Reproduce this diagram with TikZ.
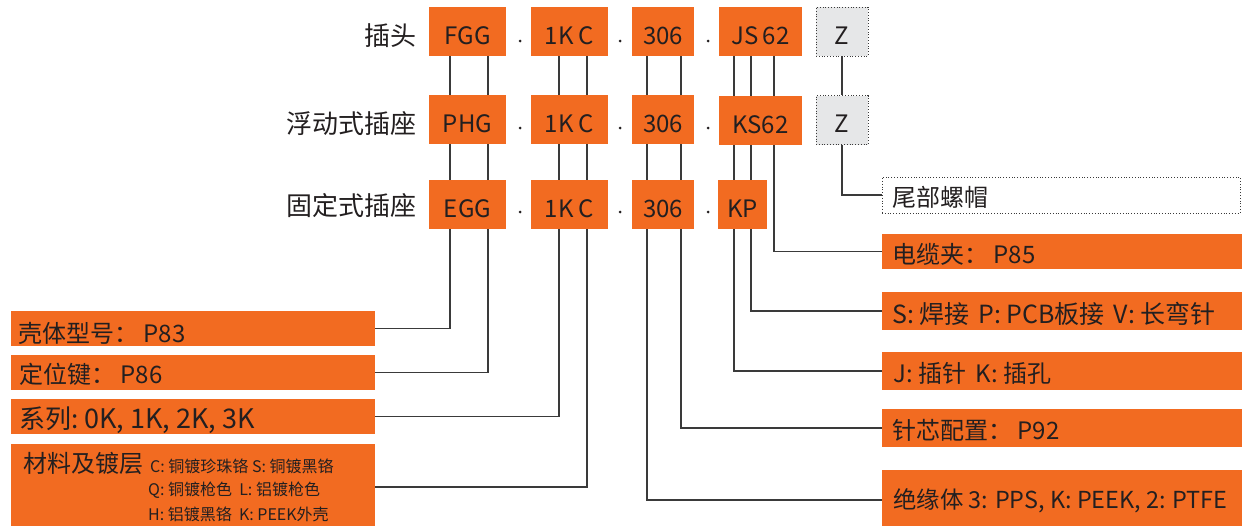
\documentclass[tikz,border=0pt]{standalone}
\usepackage{fontspec}
\setmainfont{Noto Sans CJK SC}
\usetikzlibrary{backgrounds}
\definecolor{org}{HTML}{F26B21}
\definecolor{ink}{HTML}{231F20}
\definecolor{zgray}{HTML}{E6E7E8}
\definecolor{wire}{HTML}{3A3A3A}
\begin{document}
\begin{tikzpicture}[x=1pt,y=-1pt,
 code/.style={fill=org,text=ink,inner sep=0,minimum height=49pt,text height=25pt,text depth=0pt,font=\fontsize{24}{24}\selectfont},
 zbox/.style={code,fill=zgray,draw=wire,dotted,line width=0.8pt,minimum width=52pt},
 dotmark/.style={circle,fill=ink,inner sep=0,minimum size=3pt},
 kind/.style={anchor=base east,text=ink,font=\fontsize{26}{26}\selectfont,inner sep=0},
 lbox/.style={fill=org,inner sep=0},
 ltext/.style={anchor=base west,text=ink,inner sep=0,font=\fontsize{24}{24}\selectfont},
 stext/.style={anchor=base west,text=ink,inner sep=0,font=\fontsize{16}{16}\selectfont},
 wireline/.style={draw=wire,line width=1.3pt}]
\useasboundingbox (0,0) rectangle (1242,525);

% row labels
\node[kind] (k1) at (417,45) {插头};
\node[kind] (k2) at (417,133) {浮动式插座};
\node[kind] (k3) at (417,215) {固定式插座};

% row 1
\node[code,minimum width=77pt] (FGG) at (467.5,31.5) {FGG};
\node[code,minimum width=77pt] (C1) at (569.5,31.5) {1K C};
\node[code,minimum width=62pt] (N1) at (663,31.5) {306};
\node[code,minimum width=83pt] (JS) at (760.5,31.5) {JS\hspace{4pt}62};
\node[zbox] (Z1) at (842,31.5) {Z};
% row 2
\node[code,minimum width=77pt] (PHG) at (467.5,119.5) {PHG};
\node[code,minimum width=77pt] (C2) at (569.5,119.5) {1K C};
\node[code,minimum width=62pt] (N2) at (663,119.5) {306};
\node[code,minimum width=83pt] (KS) at (760.5,120.5) {KS62};
\node[zbox] (Z2) at (842,120) {Z};
% row 3
\node[code,minimum width=77pt] (EGG) at (467.5,204.5) {EGG};
\node[code,minimum width=77pt] (C3) at (569.5,204.5) {1K C};
\node[code,minimum width=62pt] (N3) at (663,204.5) {306};
\node[code,minimum width=49pt] (KP) at (742.5,204.5) {KP};

% separators
\node[dotmark] (d11) at (520,41) {};
\node[dotmark] (d12) at (620,41) {};
\node[dotmark] (d13) at (708,41) {};
\node[dotmark] (d21) at (520,128) {};
\node[dotmark] (d22) at (620,128) {};
\node[dotmark] (d23) at (708,128) {};
\node[dotmark] (d31) at (520,212) {};
\node[dotmark] (d32) at (620,212) {};
\node[dotmark] (d33) at (708,212) {};

% left explanation boxes
\node[lbox,minimum width=364pt,minimum height=35pt] (shell) at (193,328.5) {};
\node[ltext] (shellT) at (18,342) {壳体型号： P83};
\node[lbox,minimum width=364pt,minimum height=35pt] (key) at (193,372.5) {};
\node[ltext] (keyT) at (19,383) {定位键： P86};
\node[lbox,minimum width=364pt,minimum height=35pt] (series) at (193,416.5) {};
\node[ltext,font=\fontsize{26}{26}\selectfont] (seriesT) at (19,428) {系列:\hspace{6pt}{\fontsize{27}{27}\selectfont 0K, 1K, 2K, 3K}};
\node[lbox,minimum width=364pt,minimum height=86pt] (mat) at (193,487) {};
\node[ltext] (matT) at (23,472) {材料及镀层};
\node[stext] (matA) at (150,472) {C: 铜镀珍珠铬 S: 铜镀黑铬};
\node[stext] (matB) at (148,495) {Q: 铜镀枪色\hspace{0.45em}L: 铝镀枪色};
\node[stext] (matC) at (148,520) {H: 铝镀黑铬\hspace{0.45em}K: PEEK外壳};

% right explanation boxes
\node[draw=wire,dotted,line width=0.8pt,fill=white,inner sep=0,minimum width=358pt,minimum height=36pt] (nut) at (1061,195) {};
\node[ltext] (nutT) at (892,206) {尾部螺帽};
\node[lbox,minimum width=368pt,minimum height=35pt] (clamp) at (1066,251.5) {};
\node[ltext] (clampT) at (892,263) {电缆夹： P85};
\node[lbox,minimum width=368pt,minimum height=38pt] (term) at (1066,311) {};
\node[ltext,font=\fontsize{25}{25}\selectfont] (termT) at (892,323) {S: 焊接\hspace{0.35em}P: PCB板接\hspace{0.35em}V: 长弯针};
\node[lbox,minimum width=368pt,minimum height=38pt] (JK) at (1066,371) {};
\node[ltext] (JKT) at (893,382) {J: 插针\hspace{0.4em}K: 插孔};
\node[lbox,minimum width=368pt,minimum height=38pt] (pin) at (1066,428) {};
\node[ltext] (pinT) at (892,439) {针芯配置： P92};
\node[lbox,minimum width=368pt,minimum height=60pt] (ins) at (1066,500) {};
\node[ltext,font=\fontsize{23.4}{24}\selectfont] (insT) at (893,508) {绝缘体 3: PPS, K: PEEK, 2: PTFE};

\begin{scope}[on background layer]
\draw[wireline] ([xshift=-17.5pt]FGG.south) |- (shell.east);
\draw[wireline] ([xshift=20.5pt]FGG.south) |- (key.east);
\draw[wireline] ([xshift=-10.5pt]C1.south) |- (series.east);
\draw[wireline] ([xshift=17.5pt]C1.south) |- (mat.east);
\draw[wireline] ([xshift=-16pt]N1.south) |- (ins.west);
\draw[wireline] ([xshift=18pt]N1.south) |- (pin.west);
\draw[wireline] ([xshift=-26.5pt]JS.south) |- (JK.west);
\draw[wireline] ([xshift=-9.5pt]JS.south) |- (term.west);
\draw[wireline] ([xshift=13.5pt]JS.south) |- (clamp.west);
\draw[wireline] (Z1.south) -- (Z2.north);
\draw[wireline] (Z2.south) |- (nut.west);
\end{scope}
\end{tikzpicture}
\end{document}
